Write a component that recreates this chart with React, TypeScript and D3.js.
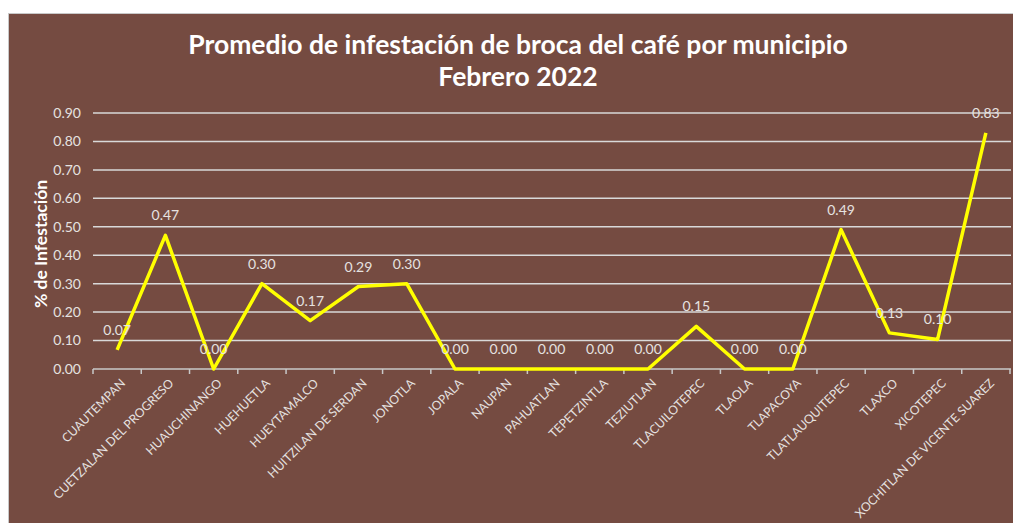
import React from "react";
import * as d3 from "d3";

const categories = [
  "CUAUTEMPAN", "CUETZALAN DEL PROGRESO", "HUAUCHINANGO", "HUEHUETLA", "HUEYTAMALCO",
  "HUITZILAN DE SERDAN", "JONOTLA", "JOPALA", "NAUPAN", "PAHUATLAN", "TEPETZINTLA",
  "TEZIUTLAN", "TLACUILOTEPEC", "TLAOLA", "TLAPACOYA", "TLATLAUQUITEPEC", "TLAXCO",
  "XICOTEPEC", "XOCHITLAN DE VICENTE SUAREZ",
];
const values = [0.067, 0.47, 0.0, 0.3, 0.17, 0.29, 0.3, 0, 0, 0, 0, 0, 0.15, 0, 0, 0.49, 0.127, 0.104, 0.83];
const yTicks = [0, 0.1, 0.2, 0.3, 0.4, 0.5, 0.6, 0.7, 0.8, 0.9];
const titleLines = ["Promedio de infestación de broca del café por municipio", "Febrero 2022"];
const yTitle = "% de Infestación";

export default function App() {
  const W = 1013, H = 523;
  const left = 93, right = 1010, top = 113, bottom = 369;
  const x = d3.scaleBand<string>().domain(categories).range([left, right]);
  const y = d3.scaleLinear().domain([0, 0.9]).range([bottom, top]);
  const cx = (c: string) => (x(c) as number) + x.bandwidth() / 2;
  const line = d3.line<number>().x((_, i) => cx(categories[i])).y((v) => y(v));
  const font = "Lato, 'Open Sans', sans-serif";
  const labelColor = "#e6e2e0";
  return (
    <svg width={W} height={H} style={{ position: "absolute", left: 0, top: 0, background: "#fff" }}>
      <rect x={8.5} y={13.5} width={W} height={H} fill="#754b41" stroke="#c8c8c8" strokeWidth={1} />
      <text x={518} y={54} textAnchor="middle" fill="#fff" fontFamily={font} fontWeight="bold" fontSize={26.5}>
        {titleLines[0]}
      </text>
      <text x={518} y={86} textAnchor="middle" fill="#fff" fontFamily={font} fontWeight="bold" fontSize={26.5}>
        {titleLines[1]}
      </text>
      <text transform={`translate(47,${(top + bottom) / 2 + 3}) rotate(-90)`} textAnchor="middle" fill="#fff"
        fontFamily={font} fontWeight="bold" fontSize={17.5}>{yTitle}</text>
      {yTicks.map((t) => (
        <g key={t}>
          {t > 0 && <line x1={left} x2={right + 1} y1={y(t)} y2={y(t)} stroke="#d9d9d9" strokeWidth={1.5} />}
          <text x={81} y={y(t)} dy="0.35em" textAnchor="end" fill={labelColor} fontFamily={font} fontSize={14}>
            {t.toFixed(2)}
          </text>
        </g>
      ))}
      <line x1={left} x2={right + 1} y1={bottom} y2={bottom} stroke="#c8c8c8" strokeWidth={1.5} />
      {categories.map((c, i) => (
        <line key={"t" + i} x1={x(c) as number} x2={x(c) as number} y1={bottom} y2={bottom + 5} stroke="#c8c8c8" strokeWidth={1.5} />
      ))}
      <line x1={right} x2={right} y1={bottom} y2={bottom + 5} stroke="#c8c8c8" strokeWidth={1.5} />
      <path d={line(values) as string} fill="none" stroke="#ffff00" strokeWidth={3.5} strokeLinejoin="round" />
      {values.map((v, i) => (
        <text key={"v" + i} x={cx(categories[i])} y={y(v) - 15} textAnchor="middle" fill={labelColor}
          fontFamily={font} fontSize={14}>{v.toFixed(2)}</text>
      ))}
      {categories.map((c, i) => (
        <text key={"c" + i} transform={`translate(${cx(c) + 6},${bottom + 12}) rotate(-45)`} textAnchor="end"
          fill={labelColor} fontFamily={font} fontSize={12.2} dy="0.35em">{c}</text>
      ))}
    </svg>
  );
}
